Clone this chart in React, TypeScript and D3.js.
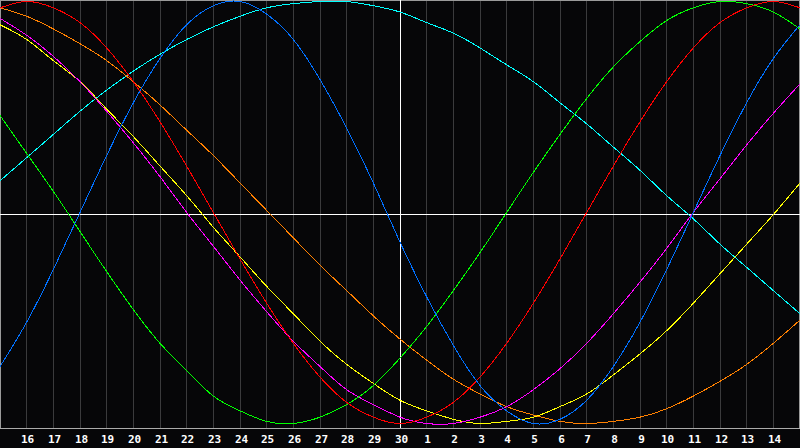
import React from "react";
import * as d3 from "d3";

const dayLabels = ["16","17","18","19","20","21","22","23","24","25","26","27","28","29","30","1","2","3","4","5","6","7","8","9","10","11","12","13","14"];

// values in percent (-100..100), one per grid day (index 0..30)
const physical = [-73,-52,-27,0,27,52,73,89,98,100,94,82,63,40,14,-14,-40,-63,-82,-94,-100,-98,-89,-73,-52,-27,0,27,52,73,89];
const emotional = [97,100,97,90,78,62,43,22,0,-22,-43,-62,-78,-90,-97,-100,-97,-90,-78,-62,-43,-22,0,22,43,62,78,90,97,100,97];
const intellectual = [46,28,10,-9,-28,-46,-62,-75,-87,-94,-99,-100,-97,-91,-82,-69,-54,-37,-19,0,19,37,54,69,81,91,97,100,99,95,87];
const intuitive = [92,84,74,62,48,33,17,0,-16,-32,-47,-61,-73,-84,-91,-97,-100,-100,-97,-92,-84,-74,-62,-48,-33,-17,0,16,32,47,61];
const aesthetic = [89,82,72,62,49,36,22,8,-7,-21,-35,-48,-61,-72,-81,-89,-94,-98,-100,-99,-97,-92,-86,-77,-67,-56,-43,-29,-15,-1,14];
const awareness = [97,93,87,80,72,62,51,39,27,14,1,-12,-25,-37,-49,-60,-70,-79,-86,-92,-96,-99,-100,-99,-97,-93,-87,-80,-72,-62,-51];
const spiritual = [15,26,37,48,58,67,75,82,88,93,97,99,100,100,98,95,90,85,78,70,62,52,42,31,20,8,-3,-15,-26,-37,-48];

const seriesList = [
  { name: "spiritual", values: spiritual, color: "#00ffff" },
  { name: "awareness", values: awareness, color: "#ff8000" },
  { name: "aesthetic", values: aesthetic, color: "#ffff00" },
  { name: "intuitive", values: intuitive, color: "#ff00ff" },
  { name: "intellectual", values: intellectual, color: "#00ff00" },
  { name: "emotional", values: emotional, color: "#ff0000" },
  { name: "physical", values: physical, color: "#0070ff" },
];

const W = 800;
const H = 448;
const PLOT_BOTTOM = 428;

export default function App() {
  const x = d3.scaleLinear().domain([0, 30]).range([0, W]);
  const y = d3.scaleLinear().domain([-100, 100]).range([423.5, 1.5]);
  const line = d3
    .line<number>()
    .x((_, i) => x(i))
    .y((v) => y(v))
    .curve(d3.curveNatural);

  const ticks = dayLabels.map((lab, k) => ({ lab, px: Math.floor(x(k + 1)) + 0.5 }));

  return (
    <svg
      width={W}
      height={H}
      style={{ position: "fixed", left: 0, top: 0, display: "block", background: "#060608" }}
    >
      <rect x={0} y={0} width={W} height={H} fill="#060608" />
      {ticks.map((t) => (
        <line
          key={"g" + t.lab}
          x1={t.px}
          x2={t.px}
          y1={0}
          y2={PLOT_BOTTOM}
          stroke="#3a3a3c"
          strokeWidth={1}
          shapeRendering="crispEdges"
        />
      ))}
      {/* border */}
      <line x1={0} x2={W} y1={0.5} y2={0.5} stroke="#9a9a9a" shapeRendering="crispEdges" />
      <line x1={0.5} x2={0.5} y1={0} y2={PLOT_BOTTOM} stroke="#9a9a9a" shapeRendering="crispEdges" />
      <line x1={W - 0.5} x2={W - 0.5} y1={0} y2={PLOT_BOTTOM} stroke="#9a9a9a" shapeRendering="crispEdges" />
      <line x1={0} x2={W} y1={PLOT_BOTTOM + 0.5} y2={PLOT_BOTTOM + 0.5} stroke="#aaaaaa" shapeRendering="crispEdges" />
      {/* center lines */}
      <line x1={0} x2={W} y1={214.5} y2={214.5} stroke="#ffffff" shapeRendering="crispEdges" />
      <line x1={400.5} x2={400.5} y1={0} y2={PLOT_BOTTOM} stroke="#ffffff" shapeRendering="crispEdges" />
      {seriesList.map((s) => (
        <path
          key={s.name}
          d={line(s.values) || ""}
          fill="none"
          stroke={s.color}
          strokeWidth={1}
          shapeRendering="crispEdges"
        />
      ))}
      {ticks.map((t) => (
        <text
          key={"t" + t.lab}
          x={t.px + 1}
          y={443}
          textAnchor="middle"
          fill="#ffffff"
          fontFamily="'DejaVu Sans Mono', monospace"
          fontWeight="bold"
          fontSize={11}
        >
          {t.lab}
        </text>
      ))}
    </svg>
  );
}
